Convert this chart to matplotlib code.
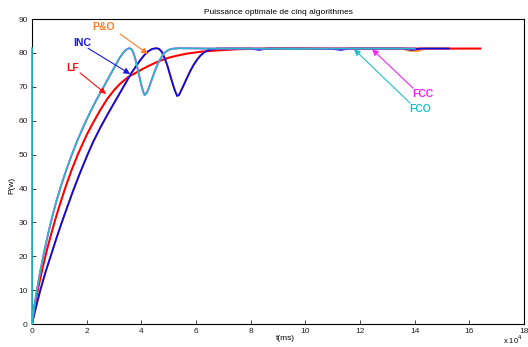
import matplotlib
matplotlib.use('Agg')
import matplotlib.pyplot as plt

# temps en unites de 1e4 ms, puissance en W
t_lf = [0, 0.05, 0.1, 0.25, 0.4, 0.55, 0.7, 0.85, 1.0, 1.2, 1.45, 1.69, 2.0, 2.22, 2.5,
        2.75, 3.0, 3.22, 3.5, 3.83, 4.1, 4.4, 4.68, 5.0, 5.3, 5.66, 6.2, 6.87, 7.5, 8.5,
        10, 12, 14, 16.4]
p_lf = [0, 3, 5.5, 11.5, 17, 22, 26.5, 30.8, 34.8, 39.8, 45.5, 50.3, 55.8, 59.2, 63.2,
        66.4, 69, 70.9, 72.8, 74.3, 75.5, 76.7, 77.7, 78.6, 79.2, 79.8, 80.4, 80.8, 81.1, 81.3,
        81.3, 81.3, 81.3, 81.3]

t_inc = [0, 0.1, 0.2, 0.32, 0.5, 0.72, 0.9, 1.08, 1.3, 1.51, 1.75, 2.03, 2.25, 2.5, 2.75,
         2.97, 3.2, 3.4, 3.65, 3.95, 4.1, 4.25, 4.4, 4.55, 4.65, 4.75, 4.85, 4.95, 5.05,
         5.15, 5.23, 5.31, 5.38, 5.45, 5.55, 5.65, 5.78, 5.9, 6.03, 6.15, 6.3, 6.45, 6.6,
         6.8, 7.2, 8.0, 8.3, 8.6, 10, 11.0, 11.3, 11.6, 12.5, 13.6, 13.9, 14.2, 15.25]
p_inc = [0, 3.5, 6.8, 10.5, 15.5, 21, 25.5, 29.8, 34.8, 39.5, 44.5, 50, 54, 58, 61.7,
         64.8, 68, 70.8, 74.3, 77.8, 79.3, 80.5, 81.2, 81.4, 81.2, 80.3, 78.5, 76.3, 73.5,
         70.8, 68.8, 67.3, 67.6, 68.8, 70.5, 72.3, 74.5, 76.3, 77.9, 79.1, 80.2, 80.8, 81.1,
         81.3, 81.3, 81.3, 80.9, 81.3, 81.3, 81.2, 80.9, 81.3, 81.3, 81.3, 80.9, 81.3, 81.3]

t_po = [0, 0.1, 0.2, 0.32, 0.5, 0.72, 0.9, 1.08, 1.3, 1.51, 1.75, 2.03, 2.25, 2.5, 2.75,
        2.97, 3.2, 3.4, 3.65, 3.95, 4.1, 4.25, 4.4, 4.55, 4.65, 4.75, 4.85, 4.95, 5.05,
        5.15, 5.23, 5.31, 5.38, 5.45, 5.55, 5.65, 5.78, 5.9, 6.03, 6.15, 6.3, 6.45, 6.6,
        6.8, 7.2, 8.0, 10, 12.5, 13.5, 13.8, 14.1, 14.4, 15.25]
p_po = [0, 3.4, 6.7, 10.4, 15.4, 20.9, 25.4, 29.7, 34.7, 39.4, 44.4, 49.9, 53.9, 57.9, 61.6,
        64.7, 67.9, 70.7, 74.2, 77.7, 79.3, 80.5, 81.2, 81.4, 81.2, 80.4, 78.6, 76.4, 73.6,
        70.9, 68.9, 67.4, 67.7, 68.9, 70.6, 72.4, 74.6, 76.4, 78.0, 79.2, 80.3, 80.9, 81.1,
        81.3, 81.3, 81.3, 81.3, 81.3, 81.3, 80.7, 80.6, 81.3, 81.3]

t_fcc = [0, 0.05, 0.1, 0.2, 0.3, 0.45, 0.6, 0.75, 0.9, 1.05, 1.2, 1.42, 1.65, 1.95, 2.15,
         2.36, 2.55, 2.73, 2.9, 3.05, 3.2, 3.35, 3.45, 3.55, 3.63, 3.7, 3.78, 3.85, 3.93,
         4.0, 4.06, 4.12, 4.18, 4.25, 4.33, 4.42, 4.5, 4.6, 4.7, 4.8, 4.9, 5.0, 5.1, 5.2,
         5.4, 6.5, 8, 9.5, 11, 12.5, 14]
p_fcc = [0, 3, 6, 11, 15.5, 21.5, 27, 32, 36.5, 40.5, 44.2, 49.2, 54, 59.5, 62.9,
         66.2, 69, 71.6, 74.1, 76.3, 78.5, 80.2, 81, 81.4, 81.2, 80.3, 78.2, 75.8, 73,
         70.5, 68.8, 67.6, 68, 69.2, 71, 73, 74.8, 76.8, 78.3, 79.6, 80.4, 80.9, 81.2, 81.3,
         81.4, 81.3, 81.3, 81.2, 81.3, 81.3, 81.3]

t_fco = [0, 0, 0.05, 0.1, 0.2, 0.3, 0.45, 0.6, 0.75, 0.9, 1.05, 1.2, 1.42, 1.65, 1.95, 2.15,
         2.36, 2.55, 2.73, 2.9, 3.05, 3.2, 3.35, 3.45, 3.55, 3.63, 3.7, 3.78, 3.85, 3.93,
         4.0, 4.06, 4.12, 4.18, 4.25, 4.33, 4.42, 4.5, 4.6, 4.7, 4.8, 4.9, 5.0, 5.1, 5.2,
         5.4, 6.5, 8, 9.5, 11, 12.5, 14]
p_fco = [81.4, 0, 3, 6, 11, 15.5, 21.5, 27, 32, 36.5, 40.5, 44.2, 49.2, 54, 59.5, 62.9,
         66.2, 69, 71.6, 74.1, 76.3, 78.5, 80.2, 81, 81.4, 81.2, 80.3, 78.2, 75.8, 73,
         70.5, 68.8, 67.6, 68, 69.2, 71, 73, 74.8, 76.8, 78.3, 79.6, 80.4, 80.9, 81.2, 81.3,
         81.4, 81.3, 81.3, 81.2, 81.3, 81.3, 81.3]

plt.rcParams['font.family'] = ['Liberation Sans', 'DejaVu Sans']

fig = plt.figure(figsize=(5.28, 3.47), dpi=100)
ax = fig.add_axes([0.0606, 0.066, 0.932, 0.879])

ax.plot(t_lf, p_lf, color='#ff0000', lw=1.5)
ax.plot(t_po, p_po, color='#ff8020', lw=1.4)
ax.plot(t_inc, p_inc, color='#0a0ae6', lw=1.3)
ax.plot(t_fcc, p_fcc, color='#ff00ff', lw=1.3)
ax.plot(t_fco, p_fco, color='#2ab8c8', lw=1.3, zorder=3, clip_on=False)

ax.set_xlim(0, 18)
ax.set_ylim(0, 90)
ax.set_xticks(range(0, 19, 2))
ax.set_yticks(range(0, 91, 10))
ax.tick_params(direction='in', length=3, width=0.6, labelsize=6, colors='#222222', pad=3)
for s in ax.spines.values():
    s.set_linewidth(0.8)

ax.set_title('Puissance optimale de cinq algorithmes', fontsize=6, pad=4)
fig.text(285 / 528, 1 - 338 / 347, 't(ms)', fontsize=6, ha='center', va='center')
fig.text(12 / 528, 1 - 185 / 347, 'P(w)', fontsize=6, ha='center', va='center', rotation=90)
fig.text(513 / 528, 1 / 347, 'x 10$^4$', fontsize=5.5, ha='center', va='bottom')

# etiquettes avec fleches
labels = [('P&O', '#ff7f27', (2.6, 87.6), (3.22, 85.6), (4.24, 79.7)),
          ('INC', '#1a1ae0', (1.83, 82.9), (2.05, 81.4), (3.59, 73.8)),
          ('LF', '#ff1010', (1.5, 75.5), (1.76, 74.1), (2.71, 67.9)),
          ('FCC', '#ff20ff', (14.3, 68.0), (13.94, 69.6), (12.44, 81.1)),
          ('FCO', '#20c0c8', (14.2, 63.4), (13.83, 65.2), (11.78, 81.1))]
for txt, col, pos, start, tip in labels:
    ax.text(pos[0], pos[1], txt, color=col, fontsize=7.5, fontweight='bold',
            ha='center', va='center')
    ax.annotate('', xy=tip, xytext=start,
                arrowprops=dict(arrowstyle='-|>', color=col, lw=0.8,
                                mutation_scale=9, shrinkA=0, shrinkB=0))

fig.savefig('out.png', dpi=100)
